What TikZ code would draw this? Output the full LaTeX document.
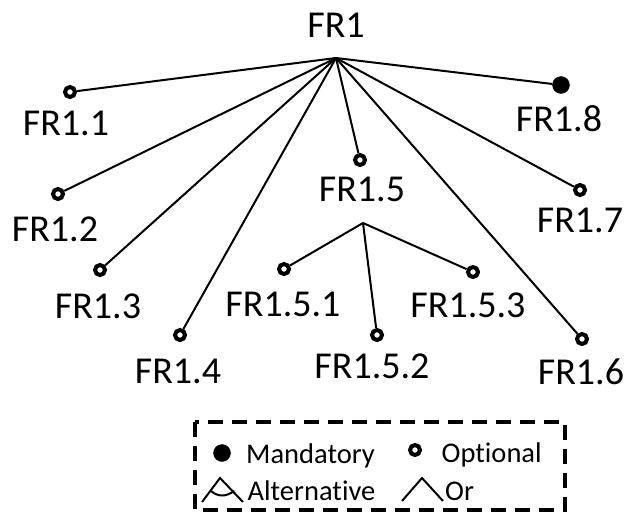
\documentclass[tikz,border=0pt]{standalone}
\usepackage{fontspec}
\setmainfont[Ligatures={NoCommon}]{Carlito}
\usetikzlibrary{positioning}

\begin{document}
\begin{tikzpicture}[x=1pt, y=-1pt, font=\fontsize{38}{40}\selectfont, node distance=14pt,
    opt/.style={draw, circle, line width=4pt, minimum size=10pt, inner sep=0pt, fill=white},
    mand/.style={draw, circle, fill=black, minimum size=17pt, inner sep=0pt},
    lbl/.style={inner sep=0pt},
    edge/.style={line width=2pt},
    legtext/.style={font=\fontsize{28.5}{30}\selectfont, inner sep=0pt, anchor=base west},
    legbox/.style={line width=4pt, dash pattern=on 15pt off 9pt}]
      \useasboundingbox (0,0) rectangle (629,514);
      % root and its features
      \node[lbl] (root) at (336,25) {FR1};
      \coordinate (apex) at (336,58);
      \node[opt] (c11) at (70,92) {};
      \node[opt] (c12) at (58,194) {};
      \node[opt] (c13) at (100,270) {};
      \node[opt] (c14) at (180,335) {};
      \node[opt] (c15) at (360,160) {};
      \node[opt] (c16) at (582,339) {};
      \node[opt] (c17) at (580,190) {};
      \node[mand] (c18) at (561,85) {};
      \node[lbl, below=12pt of c11, xshift=-4pt] (l11) {FR1.1};
      \node[lbl, below=16pt of c12, xshift=-3pt] (l12) {FR1.2};
      \node[lbl, below=17pt of c13, xshift=-2pt] (l13) {FR1.3};
      \node[lbl, below=17pt of c14, xshift=-2pt] (l14) {FR1.4};
      \node[lbl, below=10pt of c15, xshift=2pt] (l15) {FR1.5};
      \node[lbl, below=13pt of c16, xshift=-1pt] (l16) {FR1.6};
      \node[lbl, below=11pt of c17] (l17) {FR1.7};
      \node[lbl, below=12pt of c18, xshift=-2pt] (l18) {FR1.8};
      \draw[edge] (apex)--(c11);
      \draw[edge] (apex)--(c12);
      \draw[edge] (apex)--(c13);
      \draw[edge] (apex)--(c14);
      \draw[edge] (apex)--(c15);
      \draw[edge] (apex)--(c16);
      \draw[edge] (apex)--(c17);
      \draw[edge] (apex)--(c18);
      % sub-features of FR1.5
      \coordinate (apex15) at (363,223);
      \node[opt] (c151) at (284,269) {};
      \node[opt] (c152) at (377,335) {};
      \node[opt] (c153) at (473,272) {};
      \node[lbl, below=16pt of c151, xshift=-1pt] (l151) {FR1.5.1};
      \node[lbl, below=12pt of c152, xshift=-5pt] (l152) {FR1.5.2};
      \node[lbl, below=14pt of c153, xshift=-5pt] (l153) {FR1.5.3};
      \draw[edge] (apex15)--(c151);
      \draw[edge] (apex15)--(c152);
      \draw[edge] (apex15)--(c153);
      % legend
      \draw[legbox] (195,422) rectangle (565,510);
      \node[mand] (kmand) at (222,453) {};
      \node[legtext] (tmand) at (246,463) {Mandatory};
      \node[opt] (kopt) at (415,450) {};
      \node[legtext] (topt) at (441.5,462) {Optional};
      \draw[edge] (202,502) -- (220,478) -- (243,502);
      \draw[edge] (211,491) .. controls (218,497) and (226,497) .. (234,491);
      \node[legtext] (talt) at (247.5,500) {Alternative};
      \draw[edge] (402,501) -- (422,478) -- (443,501);
      \node[legtext] (tor) at (445,500) {Or};
    \end{tikzpicture}
\end{document}
